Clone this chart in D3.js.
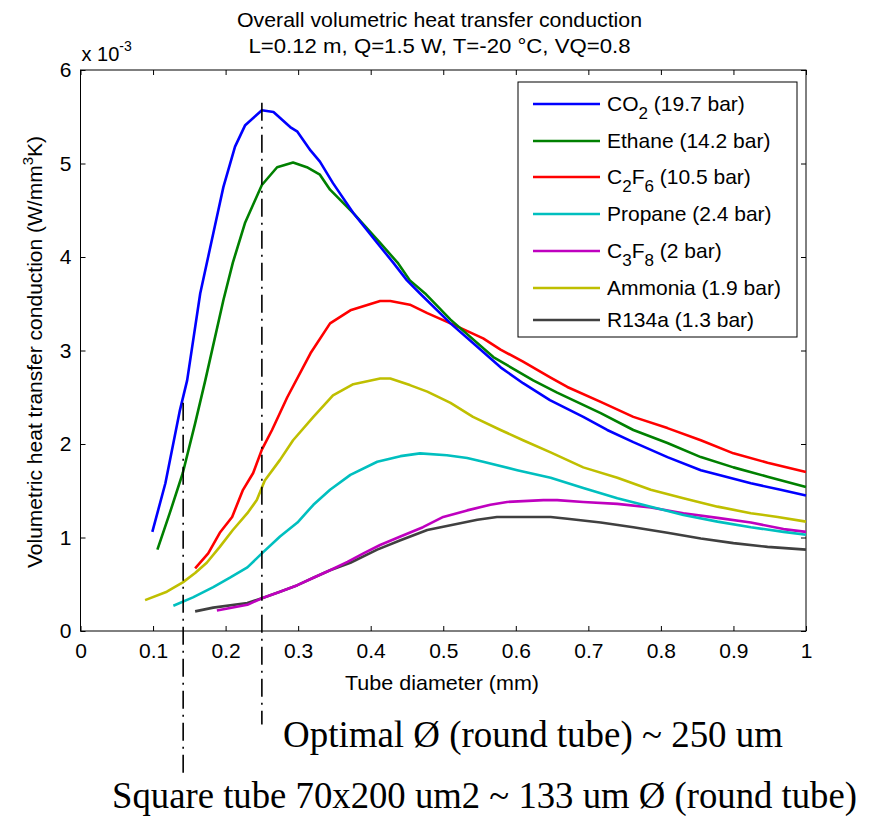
<!DOCTYPE html>
<html>
<head>
<meta charset="utf-8">
<script src="https://cdn.jsdelivr.net/npm/d3@7"></script>
<style>
  html, body { margin: 0; padding: 0; background: #fff; }
  svg { display: block; }
</style>
</head>
<body>
<svg id="chart" width="869" height="816"></svg>
<script>
// ---------------- DATA ----------------
const titleLines = ["Overall volumetric heat transfer conduction", "L=0.12 m, Q=1.5 W, T=-20 \u00B0C, VQ=0.8"];
const xTicks = [0, 0.1, 0.2, 0.3, 0.4, 0.5, 0.6, 0.7, 0.8, 0.9, 1];
const xTickLabels = ["0", "0.1", "0.2", "0.3", "0.4", "0.5", "0.6", "0.7", "0.8", "0.9", "1"];
const yTicks = [0, 1, 2, 3, 4, 5, 6];
const yTickLabels = ["0", "1", "2", "3", "4", "5", "6"];

const co2 = [[0.099,1.06],[0.117,1.58],[0.137,2.36],[0.147,2.68],[0.165,3.61],[0.188,4.43],[0.197,4.75],[0.213,5.18],[0.227,5.41],[0.250,5.57],[0.266,5.55],[0.289,5.39],[0.299,5.34],[0.317,5.14],[0.330,5.02],[0.348,4.79],[0.376,4.47],[0.409,4.15],[0.431,3.94],[0.450,3.75],[0.468,3.61],[0.510,3.29],[0.541,3.08],[0.579,2.82],[0.610,2.65],[0.647,2.47],[0.693,2.29],[0.726,2.15],[0.762,2.02],[0.809,1.86],[0.855,1.72],[0.879,1.67],[0.924,1.58],[0.965,1.51],[1.0,1.45]];
const ethane = [[0.106,0.87],[0.123,1.26],[0.141,1.69],[0.158,2.22],[0.172,2.68],[0.197,3.54],[0.210,3.94],[0.227,4.37],[0.250,4.77],[0.271,4.96],[0.293,5.01],[0.312,4.96],[0.330,4.88],[0.344,4.72],[0.376,4.47],[0.413,4.15],[0.437,3.94],[0.454,3.75],[0.475,3.61],[0.510,3.33],[0.569,2.93],[0.624,2.68],[0.657,2.55],[0.717,2.33],[0.762,2.15],[0.809,2.01],[0.855,1.86],[0.900,1.75],[0.947,1.65],[1.0,1.54]];
const c2f6 = [[0.158,0.67],[0.176,0.83],[0.192,1.05],[0.209,1.22],[0.224,1.51],[0.238,1.69],[0.250,1.94],[0.264,2.15],[0.285,2.50],[0.317,2.97],[0.344,3.29],[0.372,3.43],[0.413,3.53],[0.427,3.53],[0.454,3.49],[0.478,3.40],[0.510,3.29],[0.555,3.13],[0.579,3.01],[0.610,2.88],[0.648,2.71],[0.671,2.61],[0.717,2.45],[0.762,2.29],[0.809,2.17],[0.855,2.04],[0.900,1.90],[0.947,1.80],[1.0,1.70]];
const propane = [[0.128,0.27],[0.155,0.36],[0.183,0.47],[0.206,0.57],[0.230,0.68],[0.250,0.83],[0.275,1.01],[0.299,1.16],[0.321,1.35],[0.344,1.51],[0.372,1.67],[0.409,1.81],[0.441,1.87],[0.468,1.90],[0.505,1.88],[0.533,1.85],[0.555,1.81],[0.602,1.72],[0.648,1.64],[0.693,1.53],[0.740,1.42],[0.786,1.33],[0.831,1.24],[0.878,1.17],[0.924,1.11],[0.969,1.06],[1.0,1.03]];
const c3f8 = [[0.188,0.22],[0.230,0.28],[0.250,0.35],[0.275,0.42],[0.299,0.49],[0.321,0.57],[0.344,0.65],[0.368,0.74],[0.390,0.83],[0.413,0.92],[0.441,1.01],[0.472,1.11],[0.500,1.22],[0.533,1.29],[0.565,1.35],[0.588,1.38],[0.638,1.40],[0.657,1.40],[0.693,1.38],[0.740,1.36],[0.786,1.32],[0.831,1.26],[0.878,1.21],[0.924,1.16],[0.969,1.09],[1.0,1.06]];
const ammonia = [[0.089,0.33],[0.119,0.42],[0.141,0.52],[0.158,0.62],[0.174,0.73],[0.192,0.90],[0.210,1.08],[0.230,1.26],[0.243,1.40],[0.254,1.61],[0.275,1.83],[0.293,2.04],[0.321,2.29],[0.348,2.52],[0.376,2.64],[0.413,2.70],[0.427,2.70],[0.454,2.63],[0.478,2.56],[0.510,2.44],[0.541,2.29],[0.579,2.15],[0.610,2.04],[0.648,1.91],[0.693,1.75],[0.740,1.64],[0.786,1.51],[0.831,1.42],[0.878,1.33],[0.924,1.26],[0.961,1.22],[1.0,1.17]];
const r134a = [[0.158,0.21],[0.183,0.25],[0.230,0.30],[0.250,0.35],[0.275,0.42],[0.299,0.49],[0.321,0.57],[0.344,0.65],[0.372,0.73],[0.409,0.87],[0.441,0.97],[0.478,1.08],[0.510,1.13],[0.547,1.19],[0.574,1.22],[0.648,1.22],[0.671,1.20],[0.717,1.16],[0.762,1.11],[0.809,1.05],[0.855,0.99],[0.900,0.94],[0.947,0.90],[1.0,0.87]];

const seriesNames = ["CO2", "Ethane", "C2F6", "Propane", "C3F8", "Ammonia", "R134a"];
const seriesPressures = ["19.7", "14.2", "10.5", "2.4", "2", "1.9", "1.3"];
const seriesData = [co2, ethane, c2f6, propane, c3f8, ammonia, r134a];
const seriesColors = ["#0000ff", "#008000", "#ff0000", "#00bfbf", "#bf00bf", "#bfbf00", "#404040"];

// annotation guide lines (x in mm, y range in 1e-3 units)
const guideX = [0.25, 0.1415];
const guideTop = [5.65, 2.44];
const guideBottom = [-1.0, -1.57];
const annotations = ["Optimal \u00D8 (round tube) ~ 250 um", "Square tube 70x200 um2 ~ 133 um \u00D8 (round tube)"];

// ---------------- DRAW ----------------
const SANS = "'Liberation Sans', Arial, sans-serif";
const SERIF = "'Liberation Serif', 'Times New Roman', serif";
const svg = d3.select("#chart").style("font-family", SANS);
const x = d3.scaleLinear().domain([0, 1]).range([80.5, 806]);
const y = d3.scaleLinear().domain([0, 6]).range([631, 70]);

// box
svg.append("rect").attr("x", x(0)).attr("y", y(6)).attr("width", x(1) - x(0)).attr("height", y(0) - y(6))
  .attr("fill", "none").attr("stroke", "#000").attr("stroke-width", 1);

const fmtX = (d) => xTickLabels[xTicks.indexOf(d)];
const fmtY = (d) => yTickLabels[yTicks.indexOf(d)];

const axB = svg.append("g").attr("transform", `translate(0,${y(0)})`)
  .call(d3.axisBottom(x).tickValues(xTicks).tickFormat(fmtX).tickSizeInner(-5).tickSizeOuter(0).tickPadding(12));
const axT = svg.append("g").attr("transform", `translate(0,${y(6)})`)
  .call(d3.axisTop(x).tickValues(xTicks).tickFormat("").tickSizeInner(-5).tickSizeOuter(0));
const axL = svg.append("g").attr("transform", `translate(${x(0)},0)`)
  .call(d3.axisLeft(y).tickValues(yTicks).tickFormat(fmtY).tickSizeInner(-5).tickSizeOuter(0).tickPadding(9));
const axR = svg.append("g").attr("transform", `translate(${x(1)},0)`)
  .call(d3.axisRight(y).tickValues(yTicks).tickFormat("").tickSizeInner(-5).tickSizeOuter(0));
[axB, axT, axL, axR].forEach(g => {
  g.select(".domain").remove();
  g.attr("font-family", null).attr("font-size", null);
  g.selectAll("line").attr("stroke", "#000");
  g.selectAll("text").style("font-family", SANS).attr("font-size", 21).attr("fill", "#000");
});
axB.selectAll("text").attr("dy", "0.71em");

// exponent label
const expo = svg.append("text").attr("x", x(0) + 1).attr("y", 61).attr("font-size", 20);
expo.append("tspan").text("x 10");
expo.append("tspan").attr("dy", -10).attr("font-size", 14).text("-3");

// curves
const line = d3.line().x(d => x(d[0])).y(d => y(d[1]));
const order = [6, 4, 3, 5, 2, 1, 0];
order.forEach(i => {
  svg.append("path").datum(seriesData[i]).attr("d", line)
    .attr("fill", "none").attr("stroke", seriesColors[i]).attr("stroke-width", 2.6)
    .attr("stroke-linejoin", "round");
});

// guide lines
guideX.forEach((gx, i) => {
  svg.append("line").attr("x1", x(gx)).attr("x2", x(gx)).attr("y1", y(guideTop[i])).attr("y2", y(guideBottom[i]))
    .attr("stroke", "#000").attr("stroke-width", 1.6).attr("stroke-dasharray", "18,6,2,6");
});

// title
const titleW = [405, 382];
titleLines.forEach((t, i) => {
  svg.append("text").attr("x", 439.5).attr("y", 26.5 + i * 26).attr("text-anchor", "middle")
    .attr("font-size", 21).attr("textLength", titleW[i]).attr("lengthAdjust", "spacingAndGlyphs").text(t);
});

// axis labels
svg.append("text").attr("x", 442).attr("y", 690).attr("text-anchor", "middle").attr("font-size", 21)
  .attr("textLength", 194).attr("lengthAdjust", "spacingAndGlyphs")
  .text("Tube diameter (mm)");
const yl = svg.append("text").attr("transform", "translate(42,352) rotate(-90)").attr("text-anchor", "middle").attr("font-size", 21);
yl.append("tspan").text("Volumetric heat transfer conduction (W/mm");
yl.append("tspan").attr("dy", -9).attr("font-size", 15).text("3");
yl.append("tspan").attr("dy", 9).text("K)");

// legend
const lg = svg.append("g");
lg.append("rect").attr("x", 518).attr("y", 82).attr("width", 279).attr("height", 255)
  .attr("fill", "#fff").attr("stroke", "#000").attr("stroke-width", 1);
const rowY = [104, 141, 177, 214, 251, 288, 320];
const subs = {"CO2": [["CO", false], ["2", true]], "C2F6": [["C", false], ["2", true], ["F", false], ["6", true]], "C3F8": [["C", false], ["3", true], ["F", false], ["8", true]]};
seriesNames.forEach((name, i) => {
  lg.append("line").attr("x1", 533).attr("x2", 600).attr("y1", rowY[i]).attr("y2", rowY[i])
    .attr("stroke", seriesColors[i]).attr("stroke-width", 2.6);
  const t = lg.append("text").attr("x", 607).attr("y", rowY[i] + 7).attr("font-size", 21);
  const parts = subs[name] || [[name, false]];
  let shifted = false;
  parts.forEach(([s, isSub]) => {
    const ts = t.append("tspan").text(s);
    if (isSub && !shifted) { ts.attr("dy", 8).attr("font-size", 17); shifted = true; }
    else if (isSub) { ts.attr("font-size", 17); }
    else if (shifted) { ts.attr("dy", -8); shifted = false; }
  });
  const rest = t.append("tspan").text(" (" + seriesPressures[i] + " bar)");
  if (shifted) rest.attr("dy", -8);
});

// annotations
svg.append("text").attr("x", 283).attr("y", 747).style("font-family", SERIF)
  .attr("font-size", 37).attr("textLength", 500).attr("lengthAdjust", "spacingAndGlyphs").text(annotations[0]);
svg.append("text").attr("x", 112).attr("y", 808).style("font-family", SERIF)
  .attr("font-size", 37).attr("textLength", 745).attr("lengthAdjust", "spacingAndGlyphs").text(annotations[1]);
</script>
</body>
</html>
